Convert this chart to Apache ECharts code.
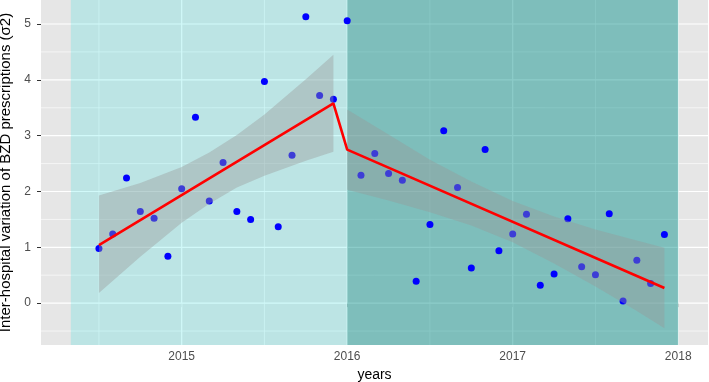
<!DOCTYPE html>
<html>
<head>
<meta charset="utf-8">
<script src="https://cdn.jsdelivr.net/npm/echarts@6/dist/echarts.min.js"></script>
<style>
html, body { margin: 0; padding: 0; background: #fff; }
#chart { width: 709px; height: 382px; }
</style>
</head>
<body>
<div id="chart"></div>
<script>
// monthly inter-hospital variance, before and after January 2016
var monthsBefore = ['2014-07','2014-08','2014-09','2014-10','2014-11','2014-12',
                    '2015-01','2015-02','2015-03','2015-04','2015-05','2015-06',
                    '2015-07','2015-08','2015-09','2015-10','2015-11','2015-12'];
var valuesBefore = [0.98, 1.24, 2.24, 1.64, 1.52, 0.84,
                    2.05, 3.33, 1.83, 2.52, 1.64, 1.50,
                    3.97, 1.37, 2.65, 5.13, 3.72, 3.65];

var monthsAfter = ['2016-01','2016-02','2016-03','2016-04','2016-05','2016-06',
                   '2016-07','2016-08','2016-09','2016-10','2016-11','2016-12',
                   '2017-01','2017-02','2017-03','2017-04','2017-05','2017-06',
                   '2017-07','2017-08','2017-09','2017-10','2017-11','2017-12'];
var valuesAfter = [5.06, 2.29, 2.68, 2.32, 2.20, 0.39,
                   1.41, 3.09, 2.07, 0.63, 2.75, 0.94,
                   1.24, 1.59, 0.32, 0.52, 1.51, 0.65,
                   0.51, 1.60, 0.04, 0.77, 0.35, 1.23];

// fitted trend (red line)
var fitMonths = ['2014-07', '2015-12', '2016-01', '2017-12'];
var fitValues = [1.04, 3.58, 2.75, 0.27];

// confidence bands
var bandMonthsBefore = ['2014-07','2014-10','2015-01','2015-03','2015-05','2015-07','2015-10','2015-12'];
var bandUpperBefore = [1.93, 2.15, 2.44, 2.70, 3.01, 3.38, 4.01, 4.45];
var bandLowerBefore = [0.18, 0.83, 1.44, 1.78, 2.07, 2.28, 2.55, 2.71];

var bandMonthsAfter = ['2016-01','2016-04','2016-07','2016-10','2017-01','2017-04','2017-07','2017-10','2017-12'];
var bandUpperAfter = [3.47, 3.02, 2.57, 2.18, 1.83, 1.55, 1.32, 1.12, 0.99];
var bandLowerAfter = [2.03, 1.84, 1.63, 1.39, 1.09, 0.71, 0.30, -0.14, -0.45];

// shaded periods (decimal years)
var shadeFrom = [2014.33, 2016];
var shadeTo = [2016, 2018];
var shadeColors = ['rgba(0,220,220,0.18)', 'rgba(0,143,136,0.45)'];

var xTicks = [2015, 2016, 2017, 2018];
var xMinor = [2014.5, 2015.5, 2016.5, 2017.5];
var yTicks = [0, 1, 2, 3, 4, 5];
var yMinor = [-0.5, 0.5, 1.5, 2.5, 3.5, 4.5];

function toYear(m) {
    var p = m.split('-');
    return +p[0] + (p[1] - 1) / 12;
}

function pairs(months, vals) {
    return months.map(function (m, i) { return [toYear(m), vals[i]]; });
}

var bands = [
    { x: bandMonthsBefore.map(toYear), up: bandUpperBefore, lo: bandLowerBefore },
    { x: bandMonthsAfter.map(toYear), up: bandUpperAfter, lo: bandLowerAfter }
];

var gridData = [];
xMinor.forEach(function (v) { gridData.push([0, v, 0]); });
xTicks.forEach(function (v) { gridData.push([0, v, 1]); });
yMinor.forEach(function (v) { gridData.push([1, v, 0]); });
yTicks.forEach(function (v) { gridData.push([1, v, 1]); });

var font = 'Liberation Sans, Arial, sans-serif';
var myChart = echarts.init(document.getElementById('chart'));

var option = {
    animation: false,
    grid: {
        left: 41, right: 1, top: 0, bottom: 37,
        outerBoundsMode: 'none',
        containLabel: false,
        show: true, backgroundColor: '#E6E6E6', borderWidth: 0
    },
    xAxis: {
        type: 'value',
        min: 2014.15,
        max: 2018.18,
        splitLine: { show: false },
        axisLine: { show: false },
        axisTick: { show: true, customValues: xTicks, length: 4, lineStyle: { color: '#333', width: 1 } },
        axisLabel: {
            customValues: xTicks, color: '#4D4D4D', fontSize: 12, margin: 6, fontFamily: font,
            formatter: function (v) { return String(v); }
        },
        name: 'years',
        nameLocation: 'middle',
        nameGap: 22,
        nameTextStyle: { color: '#000', fontSize: 14, fontFamily: font }
    },
    yAxis: {
        type: 'value',
        min: -0.75,
        max: 5.43,
        splitLine: { show: false },
        axisLine: { show: false },
        axisTick: { show: true, customValues: yTicks, length: 4, lineStyle: { color: '#333', width: 1 } },
        axisLabel: {
            customValues: yTicks, color: '#4D4D4D', fontSize: 12, margin: 10, fontFamily: font,
            formatter: function (v) { return String(v); }
        },
        name: 'Inter-hospital variation of BZD prescriptions (σ2)',
        nameLocation: 'middle',
        nameGap: 26,
        nameTextStyle: { color: '#000', fontSize: 15, fontFamily: font }
    },
    series: [
        {
            type: 'custom',
            name: 'grid',
            z: 1,
            silent: true,
            data: gridData,
            renderItem: function (params, api) {
                var cs = params.coordSys;
                var v = api.value(1);
                var shape;
                if (api.value(0) === 0) {
                    var x = api.coord([v, 0])[0];
                    shape = { x1: x, y1: cs.y, x2: x, y2: cs.y + cs.height };
                } else {
                    var y = api.coord([2016, v])[1];
                    shape = { x1: cs.x, y1: y, x2: cs.x + cs.width, y2: y };
                }
                return { type: 'line', shape: shape, style: { stroke: '#fff', lineWidth: api.value(2) ? 1.2 : 0.6 } };
            }
        },
        {
            type: 'custom',
            name: 'periods',
            z: 2,
            silent: true,
            data: shadeFrom.map(function (f, i) { return [f, shadeTo[i]]; }),
            renderItem: function (params, api) {
                var cs = params.coordSys;
                var x1 = api.coord([api.value(0), 0])[0];
                var x2 = api.coord([api.value(1), 0])[0];
                return {
                    type: 'rect',
                    shape: { x: x1, y: cs.y, width: x2 - x1, height: cs.height },
                    style: { fill: shadeColors[params.dataIndex] }
                };
            }
        },
        {
            type: 'scatter',
            name: 'months',
            z: 3,
            symbolSize: 7,
            itemStyle: { color: '#0000FF', opacity: 1 },
            data: pairs(monthsBefore, valuesBefore).concat(pairs(monthsAfter, valuesAfter))
        },
        {
            type: 'custom',
            name: 'ci',
            z: 4,
            silent: true,
            data: [[0], [1]],
            renderItem: function (params, api) {
                var b = bands[params.dataIndex];
                var pts = [];
                b.x.forEach(function (x, i) { pts.push(api.coord([x, b.up[i]])); });
                for (var i = b.x.length - 1; i >= 0; i--) {
                    pts.push(api.coord([b.x[i], b.lo[i]]));
                }
                return { type: 'polygon', shape: { points: pts }, style: { fill: 'rgba(153,153,153,0.4)' } };
            }
        },
        {
            type: 'line',
            name: 'fit',
            z: 5,
            symbol: 'none',
            lineStyle: { color: '#FF0000', width: 2.6 },
            data: pairs(fitMonths, fitValues)
        }
    ]
};
myChart.setOption(option);
</script>
</body>
</html>
